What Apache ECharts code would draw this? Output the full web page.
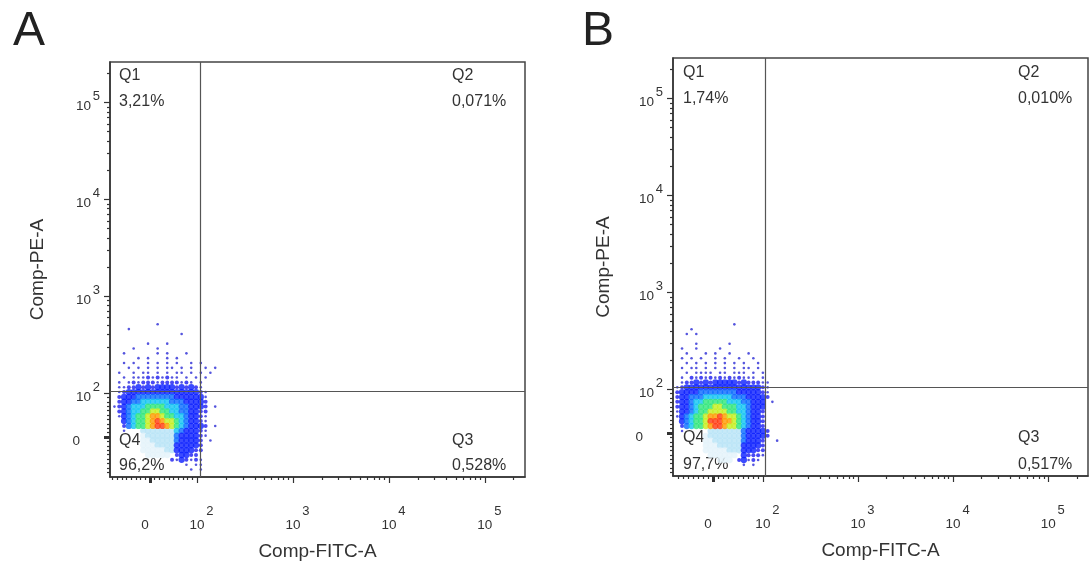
<!DOCTYPE html>
<html><head><meta charset="utf-8">
<script src="https://cdn.jsdelivr.net/npm/echarts@6/dist/echarts.min.js"></script>
<style>html,body{margin:0;padding:0;background:#fff}#c{width:1092px;height:574px}</style>
</head><body><div id="c"></div>
<script>
// ---------------- data ----------------
const panelLetters = ['A', 'B'];
const quadrantNames = ['Q1', 'Q2', 'Q3', 'Q4'];
const quadrantPctA = ['3,21%', '0,071%', '0,528%', '96,2%'];
const quadrantPctB = ['1,74%', '0,010%', '0,517%', '97,7%'];
const xAxisName = 'Comp-FITC-A';
const yAxisName = 'Comp-PE-A';
const majorTickValues = [0, 100, 1000, 10000, 100000];
const tickBaseLabels = ['0', '10', '10', '10', '10'];
const tickExponents = ['', '2', '3', '4', '5'];
const axisMaxValue = 262144;
const axisMinA = [-85, -91];   // [x, y] lowest shown value
const axisMinB = [-80, -98];
const gateA = [107, 105];      // quadrant gate [x, y]
const gateB = [105, 105];
// density levels, read cell by cell ('.' none, 1-9 blue..red, q/p pale)
const densityA = [
".........1............",
"...1..................",
"..............1.......",
"......................",
".......1...1..........",
"....1....1............",
"..1......1.1...1......",
".....1.1...1.1........",
"..1.1..1.1.1.1..1.1...",
"...1.1.1.1.11.1.1..1.1",
".1..1.11.1.1.11.1.1.1.",
"..1.1112121211.1.1.1..",
".1.12122212222121.1...",
".112232323333232321...",
".1233333333333333321..",
".2333444444443333331..",
".2334455555544433332..",
"12345556666555443332.1",
".2345566776655443322..",
".1345667887665543321..",
"..345667898776543321..",
"..245667899876543332.1",
"..1...qqqqqqq5433321..",
"......pqqqqqq4333321..",
"......ppqqqqq433332.1.",
"......pppqqqq333332...",
"......pppppqq333322...",
".......ppppp.23322....",
"............2132121...",
"...............1.11...",
"................1.1...",
"......................"
];
const densityB = [
"............1.........",
"...1..................",
"..1.1.................",
"......................",
"....1......1..........",
".1..1....1............",
"..1...1.1..1...1......",
".1.1.1..1.1..1..1.....",
"..1.1.1.1.1.1.1..1....",
".1.11.1.1.1.1.11.1....",
"..1.1111.11.111.1.1...",
".1.21212121212111.1...",
".1223232333332322211..",
"12333333333333333321..",
"23333444444443333321..",
"23344455555544433332..",
"2334556666655544333.1.",
"2334566677666554333...",
"1334566777766554332...",
"1345667889877654332...",
".345667999887654332...",
".245667899877654332...",
".1.....qqqqqqq433332..",
"......pqqqqqqq433332..",
"......ppqqqqqq43332..1",
"......pppqqqqq33332...",
"......pppppqqq33322...",
".......pppppp.32221...",
".........ppp.23121....",
"..............1.1.....",
"......................",
"......................"
];

// ---------------- scales / layout ----------------
const FONT = '"Liberation Sans", Arial, sans-serif';
const TXT = '#333';
const panels = [
  { letter: panelLetters[0], pct: quadrantPctA, gate: gateA, mins: axisMinA,
    left: 110, top: 62, width: 415, height: 415, zero: [1.51, 1.546],
    densityRows: densityA, densityOrigin: [1.14, 2.71],
    letterPos: [13, 32], yNameGap: 63, qx: [119, 452], qy: [76, 102, 441, 466] },
  { letter: panelLetters[1], pct: quadrantPctB, gate: gateB, mins: axisMinB,
    left: 673, top: 58, width: 415, height: 418, zero: [1.475, 1.548],
    densityRows: densityB, densityOrigin: [1.10, 2.67],
    letterPos: [582, 32], yNameGap: 60, qx: [683, 1018], qy: [73, 99, 438, 465] }
];
const cellStep = 0.05;
const levelColors = { '1': '#2a2ad6', '2': '#1c1cf0', '3': '#0a1eff', '4': '#0a6aff',
  '5': '#12c4f2', '6': '#30e67a', '7': '#c6ef1e', '8': '#ff9a00', '9': '#ff3a12',
  'q': '#b8e4f6', 'p': '#e4f3fa' };

function makeScale(zero) {
  return v => v >= 100 ? Math.log10(v) : zero + v * (2 - zero) / 100;
}

function axesFor(dim, gi, sc, minV, nameGap) {
  const isX = dim === 'x';
  const position = isX ? 'bottom' : 'left';
  const min = sc(minV), max = sc(axisMaxValue);
  const majors = majorTickValues.map(sc);
  const minors = [];
  for (let v = -90; v <= 90; v += 10) {
    if (v === 0) continue;
    const p = sc(v);
    if (p > min + 0.005) minors.push(p);
  }
  for (let d = 2; d <= 5; d++) for (let k = 2; k <= 9; k++) {
    const p = d + Math.log10(k);
    if (p < max) minors.push(p);
  }
  const idx = val => majors.findIndex(m => Math.abs(m - val) < 1e-6);
  const base = { type: 'value', gridIndex: gi, min, max, position, offset: 0,
    splitLine: { show: false }, silent: true };
  const tickStyle = { color: '#333', width: 1.2 };
  const lab = { fontFamily: FONT, color: TXT, fontSize: 13.5 };
  const hidden = { show: false, onZero: false };
  return [
    // axis line, major ticks, "10"/"0" labels, axis name
    Object.assign({}, base, {
      axisLine: { show: true, onZero: false, lineStyle: { color: '#333', width: 1.5 } },
      axisTick: { show: true, customValues: majors, length: 6, lineStyle: tickStyle },
      axisLabel: Object.assign({}, lab, {
        show: true, customValues: majors, margin: isX ? 41 : 19,
        lineHeight: isX ? 14 : 8, verticalAlign: 'top',
        formatter: val => {
          const i = idx(val);
          return i === 0 ? '{z|' + tickBaseLabels[0] + '}' : (tickBaseLabels[i] || '');
        },
        rich: { z: Object.assign({}, lab, { lineHeight: isX ? 14 : 8, padding: isX ? [0, 10, 0, 0] : [0, 11, 0, 0] }) }
      }),
      name: isX ? xAxisName : yAxisName,
      nameLocation: 'middle', nameGap,
      nameTextStyle: { fontFamily: FONT, fontSize: 19, color: TXT }
    }),
    // exponents (superscripts)
    Object.assign({}, base, {
      axisLine: hidden, axisTick: { show: false },
      axisLabel: Object.assign({}, lab, {
        show: true, customValues: majors.slice(1), margin: isX ? 28 : 10,
        lineHeight: 12, verticalAlign: isX ? 'top' : 'bottom',
        formatter: val => '{s|' + (tickExponents[idx(val)] || '') + '}',
        rich: { s: Object.assign({}, lab, { fontSize: 13, lineHeight: 12, padding: isX ? [0, 0, 0, 26] : [0, 0, 0, 0] }) }
      })
    }),
    // minor ticks
    Object.assign({}, base, {
      axisLine: hidden, axisLabel: { show: false },
      axisTick: { show: true, customValues: minors, length: 3, lineStyle: tickStyle }
    }),
    // bold zero tick
    Object.assign({}, base, {
      axisLine: hidden, axisLabel: { show: false },
      axisTick: { show: true, customValues: [sc(0)], length: 6, lineStyle: { color: '#333', width: 3 } }
    })
  ];
}

const grid = [], xAxis = [], yAxis = [], series = [], graphic = [];
panels.forEach((P, gi) => {
  const sx = makeScale(P.zero[0]), sy = makeScale(P.zero[1]);
  grid.push({ left: P.left, top: P.top, width: P.width, height: P.height,
    show: true, borderColor: '#444', borderWidth: 1.5, backgroundColor: 'transparent' });
  const xi = xAxis.length, yi = yAxis.length;
  xAxis.push(...axesFor('x', gi, sx, P.mins[0], 65));
  yAxis.push(...axesFor('y', gi, sy, P.mins[1], P.yNameGap));

  // density cloud
  const pale = [], dens = [];
  P.densityRows.forEach((row, r) => {
    for (let c = 0; c < row.length; c++) {
      const ch = row[c];
      if (!levelColors[ch]) continue;
      const item = {
        value: [P.densityOrigin[0] + c * cellStep, P.densityOrigin[1] - r * cellStep],
        symbol: 'circle',
        symbolSize: ch === '1' ? 2.6 : ch === '2' ? 4 : 6.3,
        itemStyle: { color: levelColors[ch] }
      };
      (ch === 'p' || ch === 'q' ? pale : dens).push(item);
    }
  });
  series.push({ type: 'scatter', xAxisIndex: xi, yAxisIndex: yi, data: pale.concat(dens),
    silent: true, z: 2, animation: false });
  // gates
  series.push({ type: 'line', xAxisIndex: xi, yAxisIndex: yi, data: [], z: 5, silent: true,
    markLine: { silent: true, symbol: 'none', animation: false, label: { show: false },
      lineStyle: { color: '#555', width: 1.2, type: 'solid' },
      data: [{ xAxis: sx(P.gate[0]) }, { yAxis: sy(P.gate[1]) }] } });

  // panel letter
  graphic.push({ type: 'text', x: P.letterPos[0], y: P.letterPos[1],
    style: { text: P.letter, font: '48px ' + FONT, fill: '#222', verticalAlign: 'middle', align: 'left' } });
  // quadrant labels: Q1 (top-left), Q2 (top-right), Q3 (bottom-right), Q4 (bottom-left)
  const pos = [[P.qx[0], 0], [P.qx[1], 0], [P.qx[1], 2], [P.qx[0], 2]];
  quadrantNames.forEach((q, i) => {
    const [x, k] = pos[i];
    graphic.push({ type: 'text', x, y: P.qy[k],
      style: { text: q, font: '16px ' + FONT, fill: TXT, verticalAlign: 'middle', align: 'left' } });
    graphic.push({ type: 'text', x, y: P.qy[k + 1],
      style: { text: P.pct[i], font: '16px ' + FONT, fill: TXT, verticalAlign: 'middle', align: 'left' } });
  });
});

const chart = echarts.init(document.getElementById('c'), null, { renderer: 'canvas' });
chart.setOption({
  animation: false,
  backgroundColor: '#fff',
  textStyle: { fontFamily: FONT },
  grid, xAxis, yAxis, series, graphic
});
</script>
</body></html>
